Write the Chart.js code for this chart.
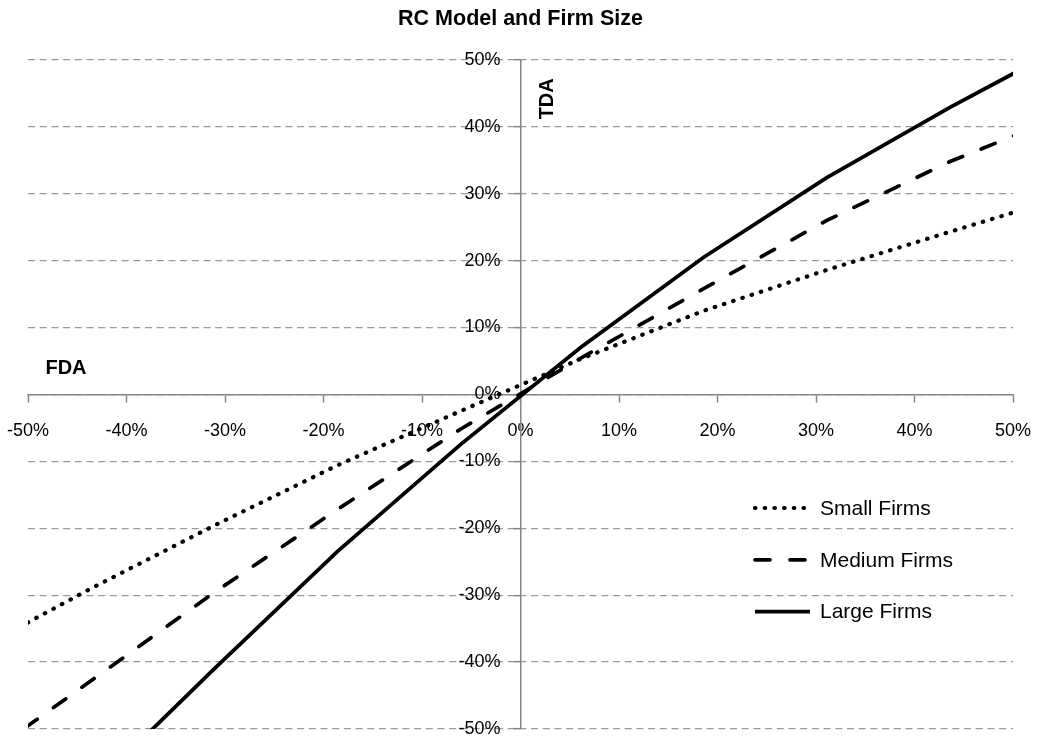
<!DOCTYPE html>
<html>
<head>
<meta charset="utf-8">
<script src="https://cdn.jsdelivr.net/npm/chart.js@4/dist/chart.umd.min.js"></script>
<style>
html,body{margin:0;padding:0;background:#fff;}
canvas{display:block;}
</style>
</head>
<body>
<canvas id="c" width="1037" height="742"></canvas>
<script>
// ---- data (percent units) ----
const fda = [-56.1, -43.6, -31.1, -18.6, -6.1, 6.1, 18.6, 31.1, 43.6, 56.1];
const smallFirms  = [-38.9, -29.0, -19.6, -10.6, -2.5, 5.3, 12.5, 18.6, 24.3, 29.9];
const mediumFirms = [-55.9, -42.8, -29.6, -17.2, -5.2, 5.4, 15.8, 26.0, 34.8, 42.2];
const largeFirms  = [-77.0, -59.0, -41.0, -23.5, -7.5, 7.0, 20.5, 32.4, 42.9, 52.7];
const seriesNames = ['Small Firms', 'Medium Firms', 'Large Firms'];
const chartTitle = 'RC Model and Firm Size';
const xAxisName = 'FDA';
const yAxisName = 'TDA';
const axisMin = -50, axisMax = 50, axisStep = 10;

const toPts = ys => fda.map((x, i) => ({x: x, y: ys[i]}));

const FONT = "'Liberation Sans', Arial, sans-serif";

const legendPlugin = {
  id: 'customLegend',
  afterDraw(chart) {
    const ctx = chart.ctx;
    const sx = 755, ex = 810, tx = 820, y0 = 508, dy = 51.8;
    chart.data.datasets.forEach((ds, i) => {
      const y = y0 + dy * i;
      ctx.save();
      ctx.strokeStyle = ds.borderColor;
      ctx.lineWidth = ds.borderWidth;
      ctx.lineCap = ds.borderCapStyle || 'butt';
      ctx.setLineDash(ds.borderDash || []);
      ctx.beginPath();
      ctx.moveTo(sx, y);
      ctx.lineTo(ex, y);
      ctx.stroke();
      ctx.setLineDash([]);
      ctx.fillStyle = '#000';
      ctx.font = '21px ' + FONT;
      ctx.textBaseline = 'middle';
      ctx.textAlign = 'left';
      ctx.fillText(ds.label, tx, y + 1);
      ctx.restore();
    });
  }
};

const axisNamePlugin = {
  id: 'axisNames',
  beforeDraw(chart) {
    // offset tick labels away from the crossing axes (kept out of layout padding)
    const ys = chart.scales.y, xs = chart.scales.x;
    const yItems = ys.getLabelItems(chart.chartArea);
    if (!yItems._shifted) {
      yItems.forEach(it => { it.options.translation[0] -= 20; });
      yItems._shifted = true;
    }
    const xItems = xs.getLabelItems(chart.chartArea);
    if (!xItems._shifted) {
      xItems.forEach(it => { it.options.translation[1] += 19; });
      xItems._shifted = true;
    }
  },
  afterDraw(chart) {
    const ctx = chart.ctx;
    const xs = chart.scales.x, ys = chart.scales.y;
    const a = chart.chartArea;
    ctx.save();
    ctx.fillStyle = '#000';
    ctx.font = 'bold 20px ' + FONT;
    ctx.textAlign = 'center';
    ctx.textBaseline = 'middle';
    ctx.fillText(xAxisName, a.left + 38, ys.getPixelForValue(0) - 26);
    ctx.translate(xs.getPixelForValue(0) + 27, a.top + 39);
    ctx.rotate(-Math.PI / 2);
    ctx.fillText(yAxisName, 0, 0);
    ctx.restore();
  }
};

new Chart(document.getElementById('c'), {
  type: 'line',
  data: {
    datasets: [
      {label: seriesNames[0], data: toPts(smallFirms), borderColor: '#000', borderWidth: 4.2,
       borderDash: [0.5, 9.2], borderCapStyle: 'round', pointRadius: 0, tension: 0, fill: false},
      {label: seriesNames[1], data: toPts(mediumFirms), borderColor: '#000', borderWidth: 3.7,
       borderDash: [15, 20], borderCapStyle: 'round', pointRadius: 0, tension: 0, fill: false},
      {label: seriesNames[2], data: toPts(largeFirms), borderColor: '#000', borderWidth: 3.8,
       pointRadius: 0, tension: 0, fill: false}
    ]
  },
  options: {
    responsive: false,
    animation: false,
    events: [],
    layout: {padding: {left: 28, right: 24, top: 0, bottom: 13}},
    plugins: {
      legend: {display: false},
      tooltip: {enabled: false},
      title: {
        display: true, text: chartTitle, color: '#000',
        font: {family: FONT, size: 21.5, weight: 'bold'},
        padding: {top: 6, bottom: 28}
      }
    },
    scales: {
      x: {
        type: 'linear', min: axisMin, max: axisMax,
        position: {y: 0},
        grid: {drawOnChartArea: false, drawTicks: true, tickLength: 7, tickColor: '#868686', tickWidth: 1.5},
        border: {display: true, color: '#868686', width: 1.5},
        ticks: {stepSize: axisStep, padding: 0, color: '#000', font: {family: FONT, size: 18},
                callback: v => v + '%', maxRotation: 0, autoSkip: false}
      },
      y: {
        type: 'linear', min: axisMin, max: axisMax,
        position: {x: 0},
        grid: {color: '#999999', lineWidth: 1.3, drawTicks: true, tickLength: 6, tickColor: '#868686', tickWidth: 1.5},
        border: {display: true, color: '#868686', width: 1.5, dash: [7, 4.7]},
        ticks: {stepSize: axisStep, padding: 0, color: '#000', font: {family: FONT, size: 18},
                callback: v => v + '%', autoSkip: false}
      }
    }
  },
  plugins: [legendPlugin, axisNamePlugin]
});
</script>
</body>
</html>
